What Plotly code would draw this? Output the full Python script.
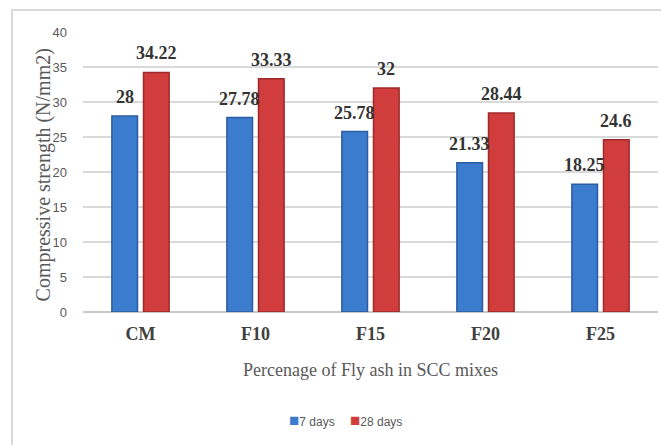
import plotly.graph_objects as go

# Compressive strength of SCC mixes by fly-ash replacement level
mixes = ["CM", "F10", "F15", "F20", "F25"]
strength_7d = [28, 27.78, 25.78, 21.33, 18.25]
strength_28d = [34.22, 33.33, 32, 28.44, 24.6]
series_names = ["7 days", "28 days"]
y_ticks = [0, 5, 10, 15, 20, 25, 30, 35, 40]

BLUE = "#3b7ccf"
BLUE_EDGE = "#2b5c9e"
RED = "#d13d3d"
RED_EDGE = "#9e2a2a"
SERIF = "Liberation Serif"
SANS = "Liberation Sans"

colors = [(BLUE, BLUE_EDGE), (RED, RED_EDGE)]
series_values = [strength_7d, strength_28d]

fig = go.Figure()
for name, vals, (fill, edge) in zip(series_names, series_values, colors):
    fig.add_trace(go.Bar(
        name=name, x=mixes, y=vals, showlegend=False,
        marker=dict(color=fill, line=dict(color=edge, width=1.5)),
    ))

# value labels above each bar
annotations = []
for vals, shift in zip(series_values, (-15.75, 15.75)):
    for m, v in zip(mixes, vals):
        annotations.append(dict(
            x=m, y=v, xref="x", yref="y", text=f"<b>{v:g}</b>", showarrow=False,
            xshift=shift, yshift=7, yanchor="bottom", xanchor="center",
            font=dict(family=SERIF, size=18, color="#333333"),
        ))

# axis titles
annotations.append(dict(
    x=-0.069, y=0.489, xref="paper", yref="paper", text="Compressive strength (N/mm2)",
    textangle=-90, showarrow=False, xanchor="center", yanchor="middle",
    font=dict(family=SERIF, size=20, color="#595959"),
))
annotations.append(dict(
    x=0.5, y=-0.207, xref="paper", yref="paper", text="Percenage of Fly ash in SCC mixes",
    showarrow=False, xanchor="center", yanchor="middle",
    font=dict(family=SERIF, size=18, color="#595959"),
))

# compact legend: colour key square followed by the series name
for name, (fill, _), lx in zip(series_names, colors, (0.354, 0.461)):
    annotations.append(dict(
        x=lx, y=-0.386, xref="paper", yref="paper",
        text=f"<span style='color:{fill};font-size:17px'>■</span>{name}",
        showarrow=False, xanchor="left", yanchor="middle",
        font=dict(family=SANS, size=12, color="#595959"),
    ))

fig.update_layout(
    width=661, height=445,
    margin=dict(l=83, r=3, t=32, b=133),
    paper_bgcolor="white", plot_bgcolor="white",
    barmode="group", bargap=0.45, bargroupgap=0.19,
    annotations=annotations,
    shapes=[dict(
        type="rect", xref="paper", yref="paper",
        x0=-0.1235, x1=1.1, y0=-1.0, y1=1.0786,
        line=dict(color="#d9d9d9", width=2), layer="below",
    )],
    xaxis=dict(
        showgrid=False, showline=False, zeroline=False, ticks="",
        tickfont=dict(family=SERIF, size=18, color="#404040", weight="bold"),
        ticklabelstandoff=9,
    ),
    yaxis=dict(
        range=[0, 40], tickvals=y_ticks, showgrid=True,
        gridcolor="#d9d9d9", gridwidth=1.5, zeroline=True,
        zerolinecolor="#c8c8c8", zerolinewidth=1.5, showline=False, ticks="",
        tickfont=dict(family=SANS, size=13, color="#595959"),
        ticklabelstandoff=15,
    ),
)

fig.write_html("out.html")
